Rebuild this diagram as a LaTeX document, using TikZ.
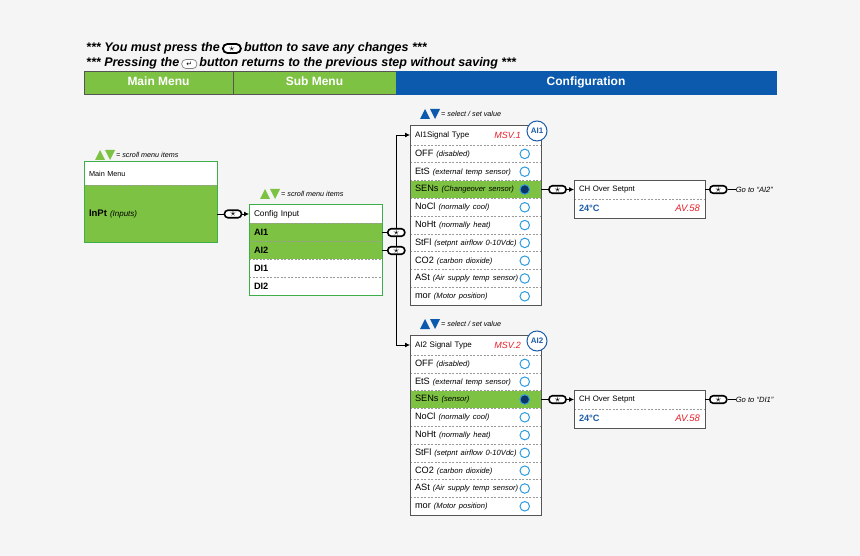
\documentclass[tikz,border=0pt]{standalone}
\usepackage{fontspec}
\setmainfont{Liberation Sans}
\newfontfamily\symfont{DejaVu Sans}
\usetikzlibrary{arrows.meta,calc,fit,positioning}
\definecolor{bggray}{HTML}{F5F5F5}
\definecolor{menugreen}{HTML}{7DC242}
\definecolor{greenline}{HTML}{3DAE49}
\definecolor{confblue}{HTML}{0B5AAD}
\definecolor{radioblue}{HTML}{2F9BDE}
\definecolor{navy}{HTML}{0D3566}
\definecolor{valueblue}{HTML}{1F5CA8}
\definecolor{alarmred}{HTML}{E8202A}
\definecolor{boxgray}{HTML}{555555}
\definecolor{sepgray}{HTML}{9A9A9A}
\newcommand{\fsz}[1]{\fontsize{#1}{#1}\selectfont}
\tikzset{
  updown/.pic={
    \fill[#1] (0,5) -- (10,5) -- (5,-5) -- cycle;
    \fill[#1] (10,-5) -- (20,-5) -- (15,5) -- cycle;
  }
}

\begin{document}
\begin{tikzpicture}[
  x=1pt, y=-1pt,
  note/.style={font=\bfseries\itshape\fsz{12.5},inner sep=0pt,text height=9pt,text depth=3pt},
  bar/.style={minimum height=23pt,inner sep=0pt,outer sep=0pt,text=white,
              font=\bfseries\fsz{12},draw=boxgray,line width=0.5pt,text height=9pt,text depth=3.5pt},
  row/.style={fill=white,text width=121pt,align=left,inner xsep=5pt,inner ysep=0pt,
              outer sep=0pt,minimum height=17.8pt,font=\fsz{9.2}},
  mrow/.style={row,text width=123pt},
  sel/.style={fill=menugreen},
  sep/.style={draw=sepgray,dash pattern=on 2pt off 1.5pt,line width=0.6pt},
  frame/.style={draw=boxgray,line width=0.9pt,inner sep=0pt},
  gframe/.style={draw=greenline,line width=1pt,inner sep=0pt},
  radio/.style={circle,draw=radioblue,line width=1pt,fill=white,minimum size=9.5pt,inner sep=0pt},
  badge/.style={circle,draw=valueblue,line width=1pt,fill=white,minimum size=20pt,
                inner sep=0pt,text=valueblue,font=\bfseries\fsz{8}},
  btn/.style={draw=black,fill=white,line width=1.6pt,rounded corners=3.5pt,
              minimum width=17pt,minimum height=7.5pt,inner sep=0pt,font=\fsz{11}},
  arr/.style={-{Latex[length=5pt,width=5pt]},line width=0.8pt},
  link/.style={line width=0.8pt},
  legend/.style={anchor=west,inner sep=0pt,font=\itshape\fsz{7.2}}
]
  \useasboundingbox[fill=bggray] (0,0) rectangle (860,556);

  % notes on top
  \node[note,anchor=west] (note1a) at (86,48.5) {*** You must press the};
  \node[btn,line width=1.8pt,minimum width=18pt,minimum height=9pt,rounded corners=4.5pt,
        right=2pt of note1a] (key1) {$\star$};
  \node[note,right=2pt of key1] (note1b) {button to save any changes ***};
  \node[note,anchor=west] (note2a) at (86,64) {*** Pressing the};
  \node[draw=gray,line width=0.7pt,rounded corners=4pt,minimum width=15pt,minimum height=9pt,
        inner sep=0pt,fill=white,font=\symfont\fsz{7},right=2pt of note2a] (key2) {↵};
  \node[note,right=2pt of key2] (note2b) {button returns to the previous step without saving ***};

  % header bar
  \node[bar,fill=menugreen,minimum width=149pt,anchor=north west] (barmain) at (84,71) {Main Menu};
  \node[bar,fill=menugreen,minimum width=163pt,right=0pt of barmain] (barsub) {Sub Menu};
  \node[bar,fill=confblue,draw=confblue,minimum width=380pt,right=0pt of barsub] (barconf) {Configuration};

  % main menu
  \pic at (95,155) {updown=menugreen};
  \node[legend] (leg1) at (116,155) {= scroll menu items};
  \node[mrow,font=\fsz{7.3},minimum height=23pt,anchor=north west] (mmtitle) at (84,162) {Main Menu};
  \node[mrow,sel,minimum height=58pt,below=0pt of mmtitle] (inpt)
    {\textbf{\fsz{9.5}InPt} {\itshape\fsz{8}(Inputs)}};
  \draw[sep] (mmtitle.south west) -- (mmtitle.south east);
  \node[gframe,fit=(mmtitle)(inpt)] (mainbox) {};

  % sub menu
  \node[mrow,font=\fsz{8.3},minimum height=19pt,right=32pt of inpt] (cfg0) {Config Input};
  \foreach \sig [count=\i] in {AI1,AI2,DI1,DI2}{
    \pgfmathtruncatemacro{\prev}{\i-1}
    \ifnum\i<3 \def\rowcol{menugreen}\else\def\rowcol{white}\fi
    \node[mrow,fill=\rowcol,minimum height=18pt,below=0pt of cfg\prev] (cfg\i) {\textbf{\sig}};
    \draw[sep] (cfg\prev.south west) -- (cfg\prev.south east);
  }
  \node[gframe,fit=(cfg0)(cfg4)] (cfgbox) {};
  \pic at (260,194) {updown=menugreen};
  \node[legend] (leg2) at (281,194) {= scroll menu items};

  \node[btn] (mmk) at ($(inpt.east)!0.5!(cfg0.west)$) {$\star$};
  \draw[link] (inpt.east) -- (mmk);
  \draw[arr] (mmk) -- (cfg0);

  % configuration
  \foreach \bx/\ytop/\hdr/\msv/\badge/\sen/\goto in
      {a1/125/AI1Signal Type/MSV.1/AI1/Changeover sensor/AI2,
       a2/335/AI2 Signal Type/MSV.2/AI2/sensor/DI1}{
    \node[row,font=\fsz{8},minimum height=20pt,anchor=north west] (\bx r0) at (410,\ytop) {\hdr};
    \node[anchor=east,inner sep=0pt,text=alarmred,font=\itshape\fsz{9}] (\bx msv)
      at ($(\bx r0.east)+(-20,0)$) {\msv};
    \foreach \code/\info [count=\i] in {OFF/disabled,EtS/external temp sensor,SENs/\sen,
        NoCl/normally cool,NoHt/normally heat,StFl/setpnt airflow 0-10Vdc,
        CO2/carbon dioxide,ASt/Air supply temp sensor,mor/Motor position}{
      \pgfmathtruncatemacro{\prev}{\i-1}
      \ifnum\i=3 \def\rowcol{menugreen}\def\dotcol{navy}\else\def\rowcol{white}\def\dotcol{white}\fi
      \node[row,fill=\rowcol,below=0pt of \bx r\prev] (\bx r\i) {\code{} {\itshape\fsz{7.6}(\info)}};
      \draw[sep] (\bx r\prev.south west) -- (\bx r\prev.south east);
      \node[radio,fill=\dotcol,left=11pt of \bx r\i.east] (\bx o\i) {};
    }
    \node[frame,fit=(\bx r0)(\bx r9)] (\bx box) {};
    \node[badge] (\bx tag) at ($(\bx r0.north east)+(-4,6)$) {\badge};
    \pic at ($(\bx r0.north west)+(10,-11)$) {updown=confblue};
    \node[legend,font=\itshape\fsz{7.2}] (\bx leg) at ($(\bx r0.north west)+(31,-11)$) {= select / set value};

    % setpoint
    \node[row,font=\fsz{7.8},minimum height=19pt,right=33pt of \bx r3] (\bx sp0) {CH Over Setpnt};
    \node[row,minimum height=19pt,below=0pt of \bx sp0] (\bx sp1)
      {\textcolor{valueblue}{\bfseries 24°C}\hfill\textcolor{alarmred}{\itshape\fsz{9.5}AV.58}};
    \draw[sep] (\bx sp0.south west) -- (\bx sp0.south east);
    \node[frame,fit=(\bx sp0)(\bx sp1)] (\bx spbox) {};
    \node[btn] (\bx k1) at ($(\bx r3.east)!0.5!(\bx sp0.west)$) {$\star$};
    \draw[link] (\bx r3.east) -- (\bx k1);
    \draw[arr] (\bx k1) -- (\bx sp0);
    \node[btn,right=4pt of \bx sp0] (\bx k2) {$\star$};
    \draw[link] (\bx sp0.east) -- (\bx k2);
    \node[legend,font=\itshape\fsz{7.6},right=8pt of \bx k2] (\bx go) {Go to ``\goto''};
    \draw[link] (\bx k2) -- (\bx go);
  }

  % sub menu to configuration
  \node[btn,right=5pt of cfg1] (cfgk1) {$\star$};
  \node[btn,right=5pt of cfg2] (cfgk2) {$\star$};
  \draw[link] (cfg1.east) -- (cfgk1);
  \draw[link] (cfg2.east) -- (cfgk2);
  \draw[link] (cfgk1) -- (cfgk2);
  \draw[arr] (cfgk1) |- (a1r0);
  \draw[arr] (cfgk2) |- (a2r0);
\end{tikzpicture}
\end{document}
